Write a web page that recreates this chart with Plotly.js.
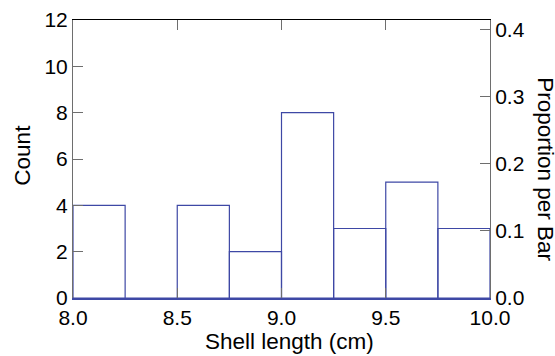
<!DOCTYPE html>
<html><head><meta charset="utf-8">
<script src="https://cdn.plot.ly/plotly-3.0.1.min.js"></script>
<style>html,body{margin:0;padding:0;background:#fff}#c{width:555px;height:356px}</style>
</head><body><div id="c"></div>
<script>
const binStarts = [8.0, 8.25, 8.5, 8.75, 9.0, 9.25, 9.5, 9.75];
const binWidth = 0.25;
const counts = [4, 0, 4, 2, 8, 3, 5, 3];
const xTicks = [8.0, 8.5, 9.0, 9.5, 10.0];
const xTickText = ['8.0', '8.5', '9.0', '9.5', '10.0'];
const yTicks = [0, 2, 4, 6, 8, 10, 12];
const propTicks = [0.0, 0.1, 0.2, 0.3, 0.4];
const propTickText = ['0.0', '0.1', '0.2', '0.3', '0.4'];

const total = counts.reduce((a, b) => a + b, 0);
const mids = binStarts.map(s => s + binWidth / 2);
const props = counts.map(c => c / total);
const yMax = 12;

const tickFont = {family: 'Liberation Sans, Arial, sans-serif', size: 21, color: '#000'};
const titleFont = {family: 'Liberation Sans, Arial, sans-serif', size: 22.5, color: '#000'};
const barColor = 'rgb(62,72,165)';
const gridGrey = '#6e6e6e';

const traces = [
  {type: 'bar', x: mids, y: counts, width: binWidth,
   marker: {color: 'rgba(255,255,255,0)', line: {color: barColor, width: 1.2}},
   hoverinfo: 'skip', showlegend: false},
  {type: 'bar', x: mids, y: props, width: binWidth, xaxis: 'x2', yaxis: 'y2',
   marker: {color: 'rgba(0,0,0,0)', line: {width: 0}}, opacity: 0,
   hoverinfo: 'skip', showlegend: false}
];

const layout = {
  width: 555, height: 356,
  margin: {l: 73, r: 65, t: 20, b: 58},
  paper_bgcolor: '#fff', plot_bgcolor: '#fff',
  font: tickFont, showlegend: false, bargap: 0, barmode: 'overlay',
  xaxis: {range: [8.0, 10.0], tickvals: xTicks, ticktext: xTickText,
    ticks: 'inside', ticklen: 10, tickcolor: gridGrey, tickwidth: 1,
    showline: true, linecolor: barColor, linewidth: 1.5,
    showgrid: false, zeroline: false, tickfont: tickFont},
  xaxis2: {range: [8.0, 10.0], tickvals: xTicks, showticklabels: false,
    overlaying: 'x', side: 'top', anchor: 'y',
    ticks: 'inside', ticklen: 10, tickcolor: gridGrey, tickwidth: 1,
    showline: true, linecolor: '#000', linewidth: 1,
    showgrid: false, zeroline: false},
  yaxis: {range: [0, yMax], tickvals: yTicks,
    ticks: 'inside', ticklen: 10, tickcolor: gridGrey, tickwidth: 1,
    showline: true, linecolor: gridGrey, linewidth: 1,
    showgrid: false, zeroline: false, tickfont: tickFont},
  yaxis2: {range: [0, yMax / total], tickvals: propTicks, ticktext: propTickText,
    overlaying: 'y', side: 'right', anchor: 'x',
    ticks: 'inside', ticklen: 10, tickcolor: gridGrey, tickwidth: 1,
    showline: true, linecolor: gridGrey, linewidth: 1,
    showgrid: false, zeroline: false, tickfont: tickFont},
  annotations: [
    {text: 'Shell length (cm)', xref: 'paper', yref: 'paper', x: 0.520, y: -0.158,
     xanchor: 'center', yanchor: 'middle', showarrow: false, font: titleFont},
    {text: 'Count', xref: 'paper', yref: 'paper', x: -0.121, y: 0.514, textangle: -90,
     xanchor: 'center', yanchor: 'middle', showarrow: false, font: titleFont},
    {text: 'Proportion per Bar', xref: 'paper', yref: 'paper', x: 1.134, y: 0.464, textangle: 90,
     xanchor: 'center', yanchor: 'middle', showarrow: false, font: titleFont}
  ]
};

Plotly.newPlot('c', traces, layout, {displayModeBar: false, staticPlot: true});
</script></body></html>
